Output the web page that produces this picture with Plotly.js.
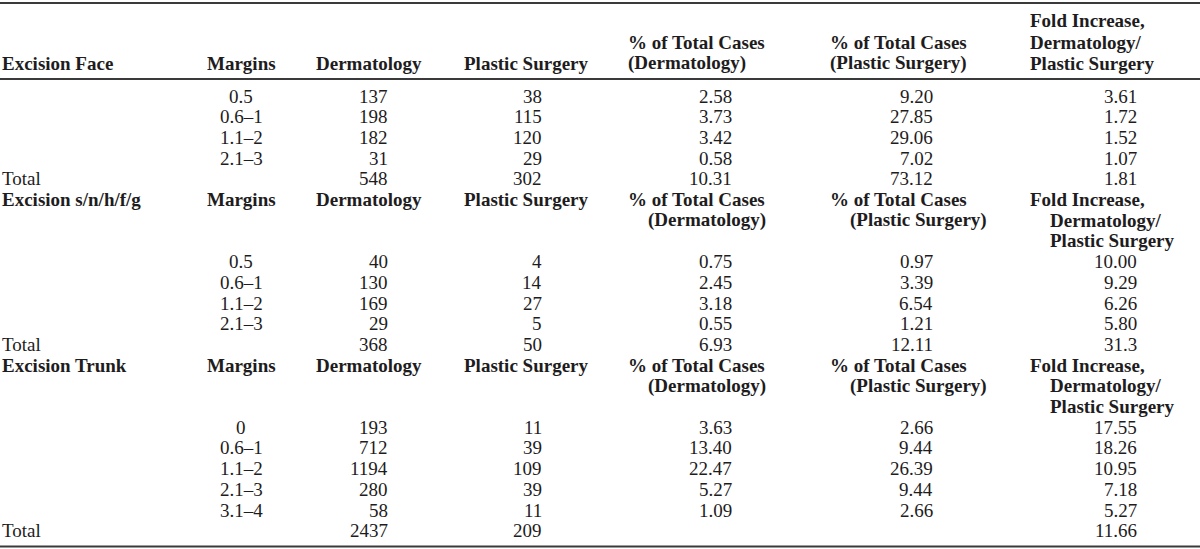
<!DOCTYPE html>
<html><head><meta charset="utf-8">
<script src="https://cdn.plot.ly/plotly-3.0.1.min.js"></script>
<style>html,body{margin:0;padding:0;background:#fff}</style>
</head><body><div id="chart" style="width:1200px;height:549px"></div>
<script>
// ---- table content ----
const sectionTitles = ['Excision Face', 'Excision s/n/h/f/g', 'Excision Trunk'];
const colHeaderLines = {
  margins: ['Margins'],
  derm: ['Dermatology'],
  plastic: ['Plastic Surgery'],
  pctD: ['% of Total Cases', '(Dermatology)'],
  pctP: ['% of Total Cases', '(Plastic Surgery)'],
  fold: ['Fold Increase,', 'Dermatology/', 'Plastic Surgery']
};
const totalLabel = 'Total';

const faceMargins = ['0.5', '0.6–1', '1.1–2', '2.1–3'];
const faceDerm = [137, 198, 182, 31, 548];
const facePlastic = [38, 115, 120, 29, 302];
const facePctDerm = ['2.58', '3.73', '3.42', '0.58', '10.31'];
const facePctPlastic = ['9.20', '27.85', '29.06', '7.02', '73.12'];
const faceFold = ['3.61', '1.72', '1.52', '1.07', '1.81'];

const snhMargins = ['0.5', '0.6–1', '1.1–2', '2.1–3'];
const snhDerm = [40, 130, 169, 29, 368];
const snhPlastic = [4, 14, 27, 5, 50];
const snhPctDerm = ['0.75', '2.45', '3.18', '0.55', '6.93'];
const snhPctPlastic = ['0.97', '3.39', '6.54', '1.21', '12.11'];
const snhFold = ['10.00', '9.29', '6.26', '5.80', '31.3'];

const trunkMargins = ['0', '0.6–1', '1.1–2', '2.1–3', '3.1–4'];
const trunkDerm = [193, 712, 1194, 280, 58, 2437];
const trunkPlastic = [11, 39, 109, 39, 11, 209];
const trunkPctDerm = ['3.63', '13.40', '22.47', '5.27', '1.09', ''];
const trunkPctPlastic = ['2.66', '9.44', '26.39', '9.44', '2.66', ''];
const trunkFold = ['17.55', '18.26', '10.95', '7.18', '5.27', '11.66'];

// ---- layout (positions in pixel-like axis units) ----
const W = 1200, H = 549;
const FONT = 'Liberation Serif, Times New Roman, serif';
const FS = 19;
const INK = '#1e1c1d';
const rowStart = 96, rowStep = 20.7;
const headY = [63, 42, 20.5];        // bottom line first, going up
const col = {
  label: {x: 2, anchor: 'left'},
  margins: {x: 241, anchor: 'center', hx: 241, hanchor: 'center'},
  derm: {x: 388, anchor: 'right', hx: 369, hanchor: 'center'},
  plastic: {x: 542, anchor: 'right', hx: 526, hanchor: 'center'},
  pctD: {x: 732, anchor: 'right', hx: 628, hanchor: 'left'},
  pctP: {x: 933, anchor: 'right', hx: 830, hanchor: 'left'},
  fold: {x: 1137, anchor: 'right', hx: 1030, hanchor: 'left'}
};
const indent = 20;
const rowY = i => rowStart + i * rowStep;

const sections = [
  {margins: faceMargins, derm: faceDerm, plastic: facePlastic, pctD: facePctDerm, pctP: facePctPlastic, fold: faceFold},
  {margins: snhMargins, derm: snhDerm, plastic: snhPlastic, pctD: snhPctDerm, pctP: snhPctPlastic, fold: snhFold},
  {margins: trunkMargins, derm: trunkDerm, plastic: trunkPlastic, pctD: trunkPctDerm, pctP: trunkPctPlastic, fold: trunkFold}
];

const ann = [];
function txt(x, y, text, anchor, bold) {
  ann.push({
    x: x, y: y, xref: 'x', yref: 'y', text: bold ? '<b>' + text + '</b>' : text,
    xanchor: anchor, yanchor: 'middle', showarrow: false, borderpad: 0, borderwidth: 0,
    font: {family: FONT, size: FS, color: INK}
  });
}
const dataCols = ['derm', 'plastic', 'pctD', 'pctP', 'fold'];
const hdrCols = ['margins', 'derm', 'plastic', 'pctD', 'pctP', 'fold'];

// top header (bottom-aligned, left-aligned multi-line)
txt(col.label.x, headY[0], sectionTitles[0], 'left', true);
hdrCols.forEach(k => {
  const lines = colHeaderLines[k];
  lines.forEach((ln, j) => {
    const y = headY[lines.length - 1 - j];
    txt(col[k].hx, y, ln, col[k].hanchor, true);
  });
});

let r = 0;
sections.forEach((s, si) => {
  if (si > 0) {
    // in-body header: top-aligned, continuation lines indented
    txt(col.label.x, rowY(r), sectionTitles[si], 'left', true);
    hdrCols.forEach(k => {
      colHeaderLines[k].forEach((ln, j) => {
        const x = col[k].hanchor === 'left' && j > 0 ? col[k].hx + indent : col[k].hx;
        txt(x, rowY(r + j), ln, col[k].hanchor, true);
      });
    });
    r += 3;
  }
  const n = s.margins.length;
  for (let i = 0; i <= n; i++) {
    if (i < n) txt(col.margins.x, rowY(r), s.margins[i], 'center', false);
    else txt(col.label.x, rowY(r), totalLabel, 'left', false);
    dataCols.forEach(k => {
      const v = s[k][i];
      if (v !== '' && v !== undefined) txt(col[k].x, rowY(r), String(v), col[k].anchor, false);
    });
    r++;
  }
});

const rule = y => ({type: 'line', xref: 'x', yref: 'y', x0: 0, x1: W, y0: y, y1: y,
  line: {color: '#3a3a3a', width: 2}});

Plotly.newPlot('chart', [{
  x: [0, W], y: [0, H], mode: 'markers', marker: {opacity: 0}, hoverinfo: 'skip', showlegend: false
}], {
  width: W, height: H,
  margin: {l: 0, r: 0, t: 0, b: 0, pad: 0},
  paper_bgcolor: '#fff', plot_bgcolor: '#fff',
  xaxis: {range: [0, W], visible: false, fixedrange: true},
  yaxis: {range: [H, 0], visible: false, fixedrange: true},
  shapes: [rule(3), rule(79), rule(546.5)],
  annotations: ann,
  showlegend: false
}, {staticPlot: true});
</script>
</body></html>
